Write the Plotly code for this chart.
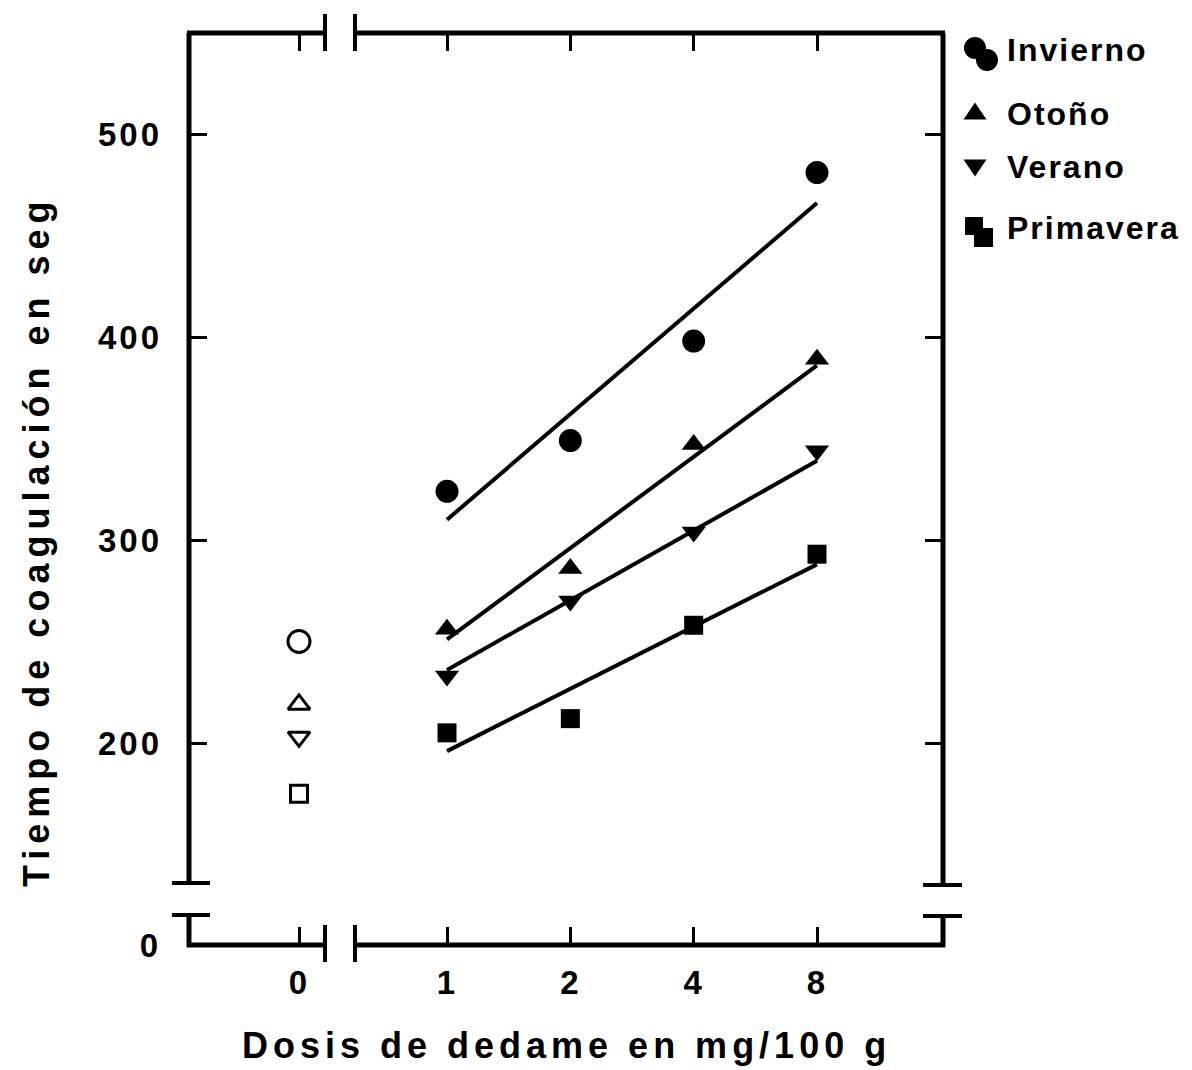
import plotly.graph_objects as go

# ---------------- data ----------------
doses = [1, 2, 4, 8]
control_dose = [0]
season_names = ["Invierno", "Otoño", "Verano", "Primavera"]

invierno = [324, 349, 398, 481]
otono = [256, 286, 347, 389]
verano = [233, 270, 304, 344]
primavera = [205, 212, 258, 293]

control_invierno = [250]
control_otono = [219]
control_verano = [203]
control_primavera = [175]

fit_doses = [1, 8]
fit_invierno = [310, 466]
fit_otono = [251, 386]
fit_verano = [236, 339]
fit_primavera = [196, 288]

y_tick_vals = [200, 300, 400, 500]
y_tick_text = ["200", "300", "400", "500"]
x_tick_vals = [1, 2, 4, 8]
x_tick_text = ["1", "2", "4", "8"]
x0_tick_vals = [0]
x0_tick_text = ["0"]
ylow_tick_vals = [0]
ylow_tick_text = ["0"]

x_title = "Dosis de dedame en mg/100 g"
y_title = "Tiempo de coagulación en seg"

# ---------------- geometry (pixels) ----------------
FIG_W, FIG_H = 1192, 1070
L, R, T, B = 189, 943, 33, 945
PW, PH = R - L, B - T


def px(x):
    return (x - L) / PW


def py(y):
    return (B - y) / PH


FONT = "Liberation Sans"
BLACK = "black"


def spaced(s, sp):
    return '<span style="letter-spacing:%dpx">%s</span>' % (sp, s)


series = [
    (invierno, control_invierno, fit_invierno, "circle"),
    (otono, control_otono, fit_otono, "triangle-up"),
    (verano, control_verano, fit_verano, "triangle-down"),
    (primavera, control_primavera, fit_primavera, "square"),
]
sizes = {"circle": 23, "triangle-up": 21, "triangle-down": 21, "square": 19}
open_sizes = {"circle": 22, "triangle-up": 19, "triangle-down": 19, "square": 17}

fig = go.Figure()
for name, (vals, ctrl, fit, sym) in zip(season_names, series):
    fig.add_trace(go.Scatter(
        x=fit_doses, y=fit, mode="lines", xaxis="x2", yaxis="y2",
        line=dict(color=BLACK, width=4), showlegend=False, name=name + " ajuste"))
    fig.add_trace(go.Scatter(
        x=doses, y=vals, mode="markers", xaxis="x2", yaxis="y2",
        marker=dict(symbol=sym, size=sizes[sym], color=BLACK, line=dict(width=0)),
        showlegend=False, name=name))
    fig.add_trace(go.Scatter(
        x=control_dose, y=ctrl, mode="markers", xaxis="x", yaxis="y2",
        marker=dict(symbol=sym + "-open", size=open_sizes[sym], color=BLACK,
                    line=dict(width=3, color=BLACK)),
        showlegend=False, name=name + " control"))

# empty helper traces so that every axis pair of the broken frame exists
for xa, ya in [("x", "y"), ("x2", "y"), ("x3", "y2"), ("x4", "y2"), ("x2", "y3")]:
    fig.add_trace(go.Scatter(x=[None], y=[None], mode="markers", xaxis=xa, yaxis=ya,
                             showlegend=False, hoverinfo="skip"))

tickfont = dict(family=FONT, size=33, color=BLACK, weight="bold")
common = dict(showgrid=False, zeroline=False, showline=False, ticks="inside",
              ticklen=18, tickwidth=3, tickcolor=BLACK, tickfont=tickfont)

x0_range = [(L - 299) / 100.0, (325 - 299) / 100.0]
oct_px = (817 - 447) / 3.0
l2 = 0.30103
x2_range = [(355 - 447) / oct_px * l2, (R - 447) / oct_px * l2]
y2_range = [200 - (883 - 743) / 2.03, 500 + (134 - T) / 2.03]

fig.update_layout(
    width=FIG_W, height=FIG_H, autosize=False,
    margin=dict(l=L, r=FIG_W - R, t=T, b=FIG_H - B, pad=0),
    paper_bgcolor="white", plot_bgcolor="white",
    showlegend=False,
    xaxis=dict(domain=[0, px(325)], range=x0_range, anchor="y",
               tickvals=x0_tick_vals, ticktext=[spaced(t, 2) for t in x0_tick_text],
               ticklabelstandoff=15, **common),
    xaxis2=dict(domain=[px(355), 1], type="log", range=x2_range, anchor="y",
                tickvals=x_tick_vals, ticktext=[spaced(t, 2) for t in x_tick_text],
                ticklabelstandoff=15, **common),
    xaxis3=dict(overlaying="x", anchor="y2", side="top", range=x0_range,
                tickvals=x0_tick_vals, showticklabels=False, **common),
    xaxis4=dict(overlaying="x2", anchor="y2", side="top", type="log", range=x2_range,
                tickvals=x_tick_vals, showticklabels=False, **common),
    yaxis=dict(domain=[0, py(915)], range=[0, 10], anchor="x",
               tickvals=ylow_tick_vals, ticktext=[spaced(t, 2) for t in ylow_tick_text],
               showgrid=False, zeroline=False, showline=False, ticks="",
               tickfont=tickfont, ticklabelstandoff=28),
    yaxis2=dict(domain=[py(883), 1], range=y2_range, anchor="x",
                tickvals=y_tick_vals, ticktext=[spaced(t, 3) for t in y_tick_text],
                ticklabelstandoff=26, **common),
    yaxis3=dict(overlaying="y2", anchor="x2", side="right", range=y2_range,
                tickvals=y_tick_vals, showticklabels=False, **common),
)

# ---------------- frame with axis breaks ----------------
shapes = []


def seg(x0, y0, x1, y1, w=5):
    shapes.append(dict(type="line", xref="paper", yref="paper",
                       x0=px(x0), y0=py(y0), x1=px(x1), y1=py(y1),
                       line=dict(color=BLACK, width=w)))


seg(L - 2, T, 325, T)
seg(355, T, R + 2, T)
seg(L - 2, B, 325, B)
seg(355, B, R + 2, B)
seg(L, T, L, 883)
seg(L, 915, L, B + 2)
seg(R, T, R, 885)
seg(R, 916, R, B + 2)
seg(325, 14, 325, 51, 4)
seg(355, 14, 355, 51, 4)
seg(325, 925, 325, 962, 4)
seg(355, 925, 355, 962, 4)
seg(172, 883, 210, 883, 4)
seg(172, 915, 210, 915, 4)
seg(923, 885, 962, 885, 4)
seg(923, 916, 962, 916, 4)

# ---------------- legend (symbols + labels) ----------------
def circ(cx, cy, r):
    shapes.append(dict(type="circle", xref="paper", yref="paper",
                       x0=px(cx - r), x1=px(cx + r), y0=py(cy + r), y1=py(cy - r),
                       fillcolor=BLACK, line=dict(width=0)))


def poly(pts):
    path = "M " + " L ".join("%f,%f" % (px(a), py(b)) for a, b in pts) + " Z"
    shapes.append(dict(type="path", xref="paper", yref="paper", path=path,
                       fillcolor=BLACK, line=dict(width=0)))


circ(975, 48, 11)
circ(987, 60, 11)
poly([(963.5, 119.5), (986.5, 119.5), (975, 102.5)])
poly([(963.5, 159.5), (986.5, 159.5), (975, 176.5)])
poly([(965, 217), (983, 217), (983, 235), (965, 235)])
poly([(974, 228), (993, 228), (993, 247), (974, 247)])

legend_y = [50, 114, 167, 228]
annotations = []
for name, yy in zip(season_names, legend_y):
    annotations.append(dict(
        xref="paper", yref="paper", x=px(1005), y=py(yy), xanchor="left", yanchor="middle",
        text=spaced(name, 2), showarrow=False,
        font=dict(family=FONT, size=32, color=BLACK, weight="bold")))

annotations.append(dict(
    xref="paper", yref="paper", x=px(566), y=py(1045), xanchor="center", yanchor="middle",
    text=spaced(x_title, 5), showarrow=False,
    font=dict(family=FONT, size=36, color=BLACK, weight="bold")))
annotations.append(dict(
    xref="paper", yref="paper", x=px(36), y=py(542), xanchor="center", yanchor="middle",
    text=spaced(y_title, 6), showarrow=False, textangle=-90,
    font=dict(family=FONT, size=36, color=BLACK, weight="bold")))

fig.update_layout(shapes=shapes, annotations=annotations)

fig.write_html("out.html")
